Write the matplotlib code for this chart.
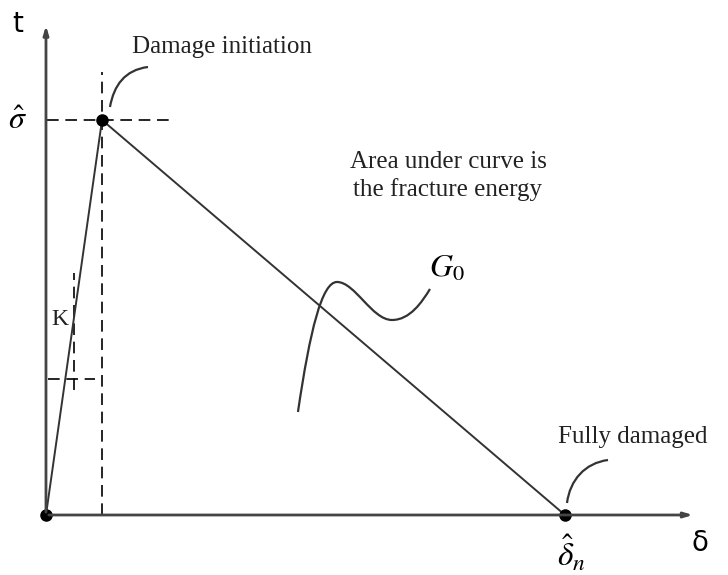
import matplotlib
matplotlib.use("Agg")
import matplotlib.pyplot as plt
from matplotlib.path import Path
from matplotlib.patches import PathPatch

plt.rcParams['mathtext.fontset'] = 'stix'

# traction-separation law (bilinear), normalised units
delta_pts = [0.0, 0.108, 1.0]     # 0, delta_0, delta_n
t_pts = [0.0, 1.0, 0.0]           # 0, sigma_hat, 0

# axis extents
x_axis_end = 1.252
y_axis_end = 1.246

# guide lines
sig_dash_x = [0.002, 0.249]
d0_dash_t = [0.0, 1.122]
k_vert_d = 0.054
k_vert_t = [0.316, 0.613]
k_hor_t = 0.344
k_hor_d = [0.004, 0.094]

# leader curves (bezier control points)
leader_init = [(0.1233, 1.0329), (0.1310, 1.0886), (0.1522, 1.1266), (0.1965, 1.1342)]
leader_full = [(1.0039, 0.0304), (1.0096, 0.0886), (1.0385, 0.1316), (1.0829, 0.1392)]
leader_g0 = [(0.4855, 0.2608),
             (0.5087, 0.4684), (0.5318, 0.5899), (0.5607, 0.5899),
             (0.5954, 0.5899), (0.6281, 0.4937), (0.6667, 0.4937),
             (0.7013, 0.4937), (0.7245, 0.5392), (0.7399, 0.5722)]

fig = plt.figure(figsize=(7.28, 5.75), dpi=100)
ax = fig.add_axes([0, 0, 1, 1])
ax.set_xlim(-0.0886, 1.3141)
ax.set_ylim(-0.1519, 1.3038)
ax.axis('off')

# axes arrows
ax.annotate('', xy=(x_axis_end, 0), xytext=(0, 0),
            arrowprops=dict(arrowstyle='-|>,head_length=0.5,head_width=0.15', color='#444444', lw=2))
ax.annotate('', xy=(0, y_axis_end), xytext=(0, 0),
            arrowprops=dict(arrowstyle='-|>,head_length=0.5,head_width=0.15', color='#444444', lw=2))

# dashed guides
ds = (0, (7, 4))
ax.plot(sig_dash_x, [t_pts[1]] * 2, color='black', lw=1.2, ls=ds)
ax.plot([delta_pts[1]] * 2, d0_dash_t, color='black', lw=1.2, ls=ds)
ax.plot([k_vert_d] * 2, k_vert_t, color='black', lw=1.2, ls=ds)
ax.plot(k_hor_d, [k_hor_t] * 2, color='black', lw=1.2, ls=ds)

# traction-separation curve
ax.plot(delta_pts, t_pts, color='#333333', lw=1.4)
ax.plot(delta_pts, t_pts, ls='none', marker='o', ms=8, color='black')

def bez(pts):
    codes = [Path.MOVETO] + [Path.CURVE4] * (len(pts) - 1)
    return PathPatch(Path(pts, codes), fill=False, color='#333333', lw=1.6)

for p in (leader_init, leader_full, leader_g0):
    ax.add_patch(bez(p))

serif = 'Liberation Serif'
ax.text(0.1657, 1.185, 'Damage initiation', family=serif, fontsize=18,
        ha='left', va='center', color='#222222')
ax.text(0.7746, 0.858, 'Area under curve is\nthe fracture energy', family=serif,
        fontsize=18, ha='center', va='center', linespacing=1.25, color='#222222')
ax.text(0.9865, 0.1975, 'Fully damaged', family=serif, fontsize=18,
        ha='left', va='center', color='#222222')
ax.text(0.027, 0.4937, 'K', family=serif, fontsize=17, ha='center', va='center',
        color='#222222')
ax.text(0.7726, 0.6253, r'$G_0$', fontsize=23, ha='center', va='center')
ax.text(-0.054, 1.243, 't', family='DejaVu Sans', fontsize=20, ha='center', va='center')
ax.text(-0.054, 0.998, r'$\hat{\sigma}$', fontsize=23, ha='center', va='center')
ax.text(1.2601, -0.0709, 'δ', family='DejaVu Sans', fontsize=20, ha='center', va='center')
ax.text(1.0116, -0.0962, r'$\hat{\delta}_n$', fontsize=24, ha='center', va='center')

fig.savefig('out.png', dpi=100)
